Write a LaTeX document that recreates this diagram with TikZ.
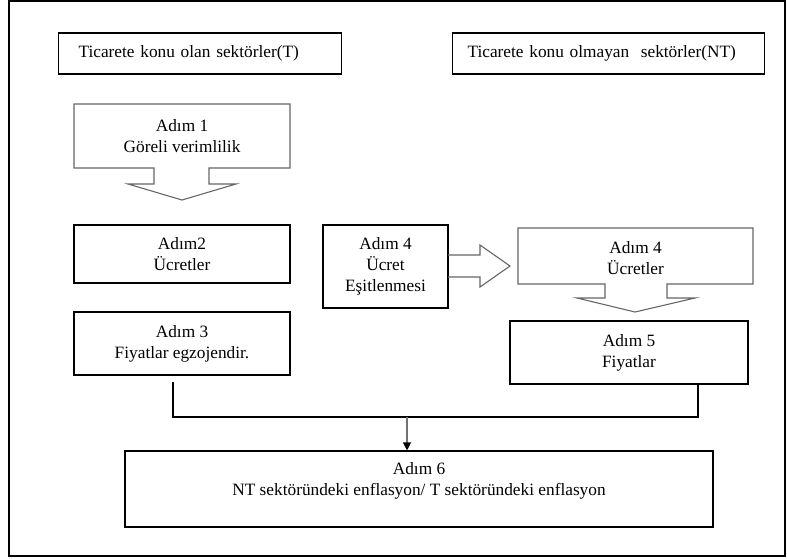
\documentclass[tikz,border=0pt]{standalone}
\usepackage{fontspec}
\setmainfont{Liberation Serif}
\usetikzlibrary{arrows.meta}

\begin{document}
\begin{tikzpicture}[x=1pt,y=-1pt,
        every node/.style={font=\fontsize{17.3}{21}\selectfont,align=center},
        box/.style={draw,line width=1.1pt,inner sep=0pt},
        hdr/.style={box,anchor=west,align=left,minimum height=41pt},
        shaft/.style={draw=black!60,line width=1.1pt}]
        \useasboundingbox (0,0) rectangle (787,558);
        \draw [line width=1.3pt] (9,1) rectangle (785,556);
        % sector headers
        \node[hdr,text width=243pt,inner xsep=20pt] (tsec) at (58,53.5) {Ticarete konu olan sektörler(T)};
        \node[hdr,text width=282pt,inner xsep=15pt] (ntsec) at (452,53.5) {Ticarete konu olmayan\ \ sektörler(NT)};
        % step 1, down arrow callout
        \draw [shaft] (74,104) -- (290,104) -- (290,168) -- (209,168) -- (209,184) -- (236,184)
            -- (182,200) -- (128,184) -- (154,184) -- (154,168) -- (74,168) -- cycle;
        \node (step1) at (182,136) {Adım 1\\Göreli verimlilik};
        % T side
        \node[box,minimum width=216pt,minimum height=58pt] (step2) at (182,254) {Adım2\\Ücretler};
        \node[box,minimum width=216pt,minimum height=63pt] (step3) at (182,343.5) {Adım 3\\Fiyatlar egzojendir.};
        % wage equalisation and its block arrow
        \node[box,minimum width=125pt,minimum height=83pt] (wage) at (385.5,266.5) {Adım 4\\Ücret\\Eşitlenmesi};
        \draw [shaft] (448,255) -- (480,255) -- (480,245) -- (510,266) -- (480,287) -- (480,277) -- (448,277);
        % NT side
        \draw [shaft] (518,228) -- (753,228) -- (753,284) -- (667,284) -- (667,298) -- (695,298)
            -- (635,312) -- (577,298) -- (605,298) -- (605,284) -- (518,284) -- cycle;
        \node (step4) at (635.5,258) {Adım 4\\Ücretler};
        \node[box,minimum width=238pt,minimum height=63pt] (step5) at (629,352.5) {Adım 5\\Fiyatlar};
        % result
        \node[box,minimum width=588pt,minimum height=76pt] (step6) at (419,489)
            {Adım 6\\NT sektöründeki enflasyon/ T sektöründeki enflasyon\\\mbox{}};
        \coordinate (lft) at (173,382);
        \coordinate (rgt) at (698,384);
        \coordinate (join) at (407,417);
        \draw [line width=1.1pt] (lft) |- (join) -| (rgt);
        \draw [black!55,line width=1.1pt,-{Triangle[black,width=8pt,length=8pt]}] (join) -- (join |- step6.north);
    \end{tikzpicture}
\end{document}
